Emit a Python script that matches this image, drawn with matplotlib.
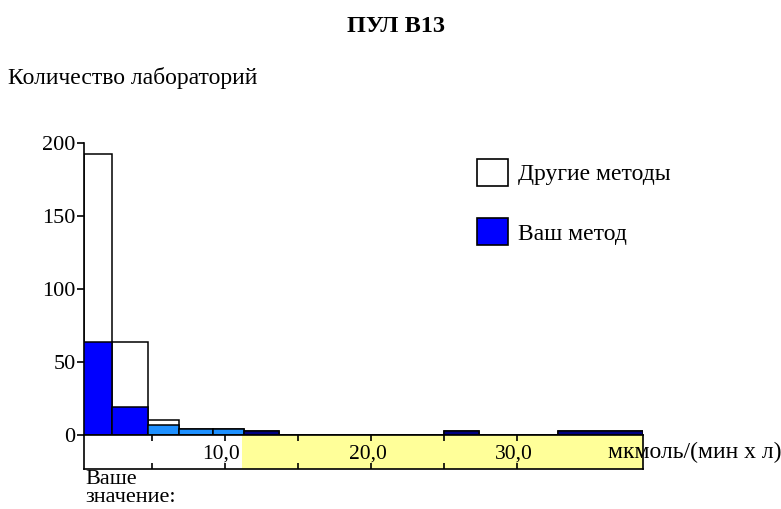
import numpy as np
import matplotlib
matplotlib.use("Agg")
import matplotlib.pyplot as plt
from matplotlib.patches import Patch

plt.rcParams['font.family'] = ['Liberation Serif', 'DejaVu Serif']

# Data (bin edges in мкмоль/(мин х л), counts of laboratories)
bin_edges = [0.35, 2.3, 4.7, 6.85, 9.2, 11.3, 13.7, 25.0, 27.4, 32.8, 38.6]
other_counts = [193, 64, 10, 4, 4, 2.4, 0, 2.4, 0, 2.4]
your_counts = [64, 19, 7, 4, 4, 2.4, 0, 2.4, 0, 2.4]
your_colors = ['#0000ff', '#0000ff', '#1e90ff', '#1e90ff', '#1e90ff',
               '#000080', '#000080', '#000080', '#000080', '#000080']
x_ticks = [5, 10, 15, 20, 25, 30]
x_labels = {10: '10,0', 20: '20,0', 30: '30,0'}
y_ticks = [0, 50, 100, 150, 200]
your_value_range = (11.16, 38.6)

W, H = 781, 509
fig = plt.figure(figsize=(W / 100, H / 100), dpi=100)

left, right = 84, 643
top, zero = 143.3, 435
strip_bottom = 469
xlim = (bin_edges[0], bin_edges[-1])

ax = fig.add_axes([left / W, 1 - zero / H, (right - left) / W, (zero - top) / H])
lefts = np.array(bin_edges[:-1])
widths = np.diff(bin_edges)
ax.bar(lefts, other_counts, width=widths, align='edge', color='white',
       edgecolor='black', linewidth=1.1, zorder=2)
ax.bar(lefts, your_counts, width=widths, align='edge', color=your_colors,
       edgecolor='black', linewidth=1.1, zorder=3)
ax.set_xlim(*xlim)
ax.set_ylim(0, 200)
ax.set_yticks(y_ticks)
ax.set_xticks([])
ax.tick_params(axis='y', direction='out', length=5, width=1.2, pad=1, labelsize=16)
for s in ['top', 'right', 'bottom']:
    ax.spines[s].set_visible(False)
ax.spines['left'].set_linewidth(1.2)

handles = [Patch(facecolor='white', edgecolor='black', linewidth=1.2),
           Patch(facecolor='#0000ff', edgecolor='black', linewidth=1.2)]
ax.legend(handles, ['Другие методы', 'Ваш метод'], loc='upper left',
          bbox_to_anchor=((477 - left) / (right - left), (zero - 159) / (zero - top)),
          frameon=False, fontsize=17, handlelength=1.3, handleheight=1.4,
          labelspacing=1.35, handletextpad=0.45, borderpad=0, borderaxespad=0)

# axis strip below the bars
ax2 = fig.add_axes([left / W, 1 - strip_bottom / H, (right - left) / W, (strip_bottom - zero) / H])
ax2.set_xlim(*xlim)
ax2.set_ylim(0, 1)
ax2.axvspan(*your_value_range, color='#ffff99', lw=0)
ax2.set_xticks(x_ticks)
ax2.set_xticklabels([])
ax2.set_yticks([])
ax2.tick_params(axis='x', direction='in', length=4, width=1.2, top=True, bottom=True)
for s in ax2.spines.values():
    s.set_linewidth(1.2)
for v, lab in x_labels.items():
    ax2.text(v - 0.25, 0.45, lab, ha='center', va='center', fontsize=15.5)

fig.text(396 / W, 1 - 27 / H, 'ПУЛ В13', ha='center', va='center',
         fontsize=17.5, fontweight='bold')
fig.text(8 / W, 1 - 78 / H, 'Количество лабораторий', ha='left', va='center', fontsize=17)
fig.text(608 / W, 1 - 452 / H, 'мкмоль/(мин х л)', ha='left', va='center', fontsize=17)
fig.text(85 / W, 1 - 470 / H, 'Ваше\nзначение:', ha='left', va='top',
         fontsize=16, linespacing=0.95)

fig.savefig('out.png', dpi=100)
